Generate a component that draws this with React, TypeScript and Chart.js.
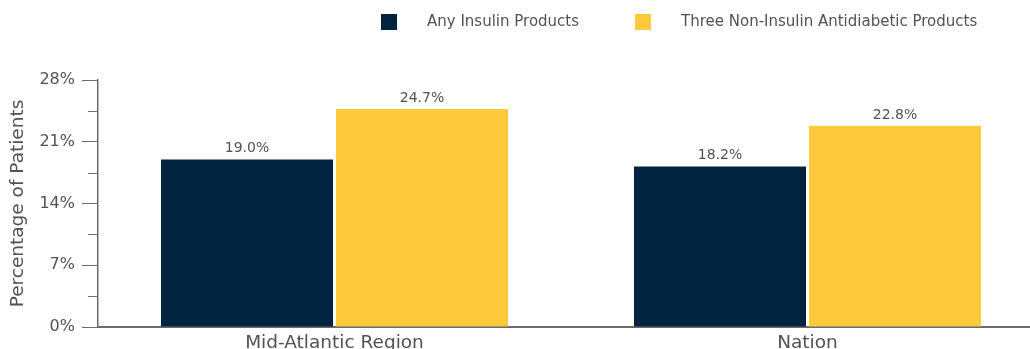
import React, { useEffect, useRef } from "react";
import { Chart, registerables } from "chart.js";

Chart.register(...registerables);

const categories = ["Mid-Atlantic Region", "Nation"];
const seriesNames = ["Any Insulin Products", "Three Non-Insulin Antidiabetic Products"];
const insulinValues = [19.0, 18.2];
const nonInsulinValues = [24.7, 22.8];
const seriesColors = ["#00233F", "#FEC93A"];
const yTickValues = [0, 7, 14, 21, 28];

const FONT = "'DejaVu Sans', sans-serif";
const TEXT = "#525252";
const AXIS = "#6b6b6b";

// Value labels above each bar
const valueLabels = {
  id: "valueLabels",
  afterDatasetsDraw(chart: any) {
    const ctx = chart.ctx;
    ctx.save();
    ctx.font = `14px ${FONT}`;
    ctx.fillStyle = TEXT;
    ctx.textAlign = "center";
    ctx.textBaseline = "middle";
    chart.data.datasets.forEach((ds: any, i: number) => {
      const meta = chart.getDatasetMeta(i);
      meta.data.forEach((bar: any, j: number) => {
        ctx.fillText(`${Number(ds.data[j]).toFixed(1)}%`, bar.x, bar.y - 11);
      });
    });
    ctx.restore();
  },
};

// Short minor ticks between the labelled ones
const minorTicks = {
  id: "minorTicks",
  afterDraw(chart: any) {
    const y = chart.scales.y;
    const ctx = chart.ctx;
    ctx.save();
    ctx.strokeStyle = AXIS;
    ctx.lineWidth = 1;
    for (let i = 0; i < yTickValues.length - 1; i++) {
      const v = (yTickValues[i] + yTickValues[i + 1]) / 2;
      const py = Math.round(y.getPixelForValue(v)) + 0.5;
      ctx.beginPath();
      ctx.moveTo(y.right - 10, py);
      ctx.lineTo(y.right, py);
      ctx.stroke();
    }
    ctx.restore();
  },
};

// Legend row across the top
const topLegend = {
  id: "topLegend",
  afterDraw(chart: any) {
    const ctx = chart.ctx;
    ctx.save();
    ctx.font = `15px ${FONT}`;
    ctx.textBaseline = "middle";
    ctx.textAlign = "left";
    let x = 381;
    const cy = 22;
    chart.data.datasets.forEach((ds: any) => {
      ctx.fillStyle = ds.backgroundColor;
      ctx.fillRect(x, cy - 8, 16, 16);
      ctx.fillStyle = TEXT;
      ctx.fillText(ds.label, x + 46, cy);
      x += 46 + ctx.measureText(ds.label).width + 56;
    });
    ctx.restore();
  },
};

export default function App() {
  const canvasRef = useRef<HTMLCanvasElement | null>(null);

  useEffect(() => {
    if (!canvasRef.current) return;
    const chart = new Chart(canvasRef.current, {
      type: "bar",
      data: {
        labels: categories,
        datasets: [
          { label: seriesNames[0], data: insulinValues, backgroundColor: seriesColors[0] },
          { label: seriesNames[1], data: nonInsulinValues, backgroundColor: seriesColors[1] },
        ],
      },
      options: {
        responsive: false,
        animation: false,
        layout: { padding: { top: 80, left: 0, right: 0, bottom: 0 } },
        datasets: {
          bar: { categoryPercentage: 0.74, barPercentage: 0.983 },
        },
        plugins: {
          legend: { display: false },
          tooltip: { enabled: false },
        },
        scales: {
          x: {
            grid: { display: false },
            border: { display: true, color: AXIS, width: 2 },
            ticks: { font: { family: FONT, size: 18.5 }, color: TEXT, padding: -3, maxRotation: 0 },
            afterFit(scale: any) {
              scale.height = 22;
            },
          },
          y: {
            min: 0,
            max: 28,
            afterBuildTicks(scale: any) {
              scale.ticks = yTickValues.map((v) => ({ value: v }));
            },
            grid: {
              drawOnChartArea: false,
              drawTicks: true,
              tickLength: 16,
              tickColor: AXIS,
              tickWidth: 1,
            },
            border: { display: true, color: AXIS, width: 1.5 },
            ticks: {
              font: { family: FONT, size: 16 },
              color: TEXT,
              padding: 7,
              callback: (v: any) => `${v}%`,
            },
            title: {
              display: true,
              text: "Percentage of Patients",
              font: { family: FONT, size: 18.5 },
              color: TEXT,
              padding: { top: 7, bottom: 0 },
            },
            afterFit(scale: any) {
              scale.width = 98;
            },
          },
        },
      },
      plugins: [valueLabels, minorTicks, topLegend],
    });
    return () => chart.destroy();
  }, []);

  return (
    <div style={{ position: "fixed", left: 0, top: 0, width: 1030, height: 349, overflow: "hidden", background: "#fff" }}>
      <canvas ref={canvasRef} width={1044} height={349} style={{ display: "block" }} />
    </div>
  );
}
